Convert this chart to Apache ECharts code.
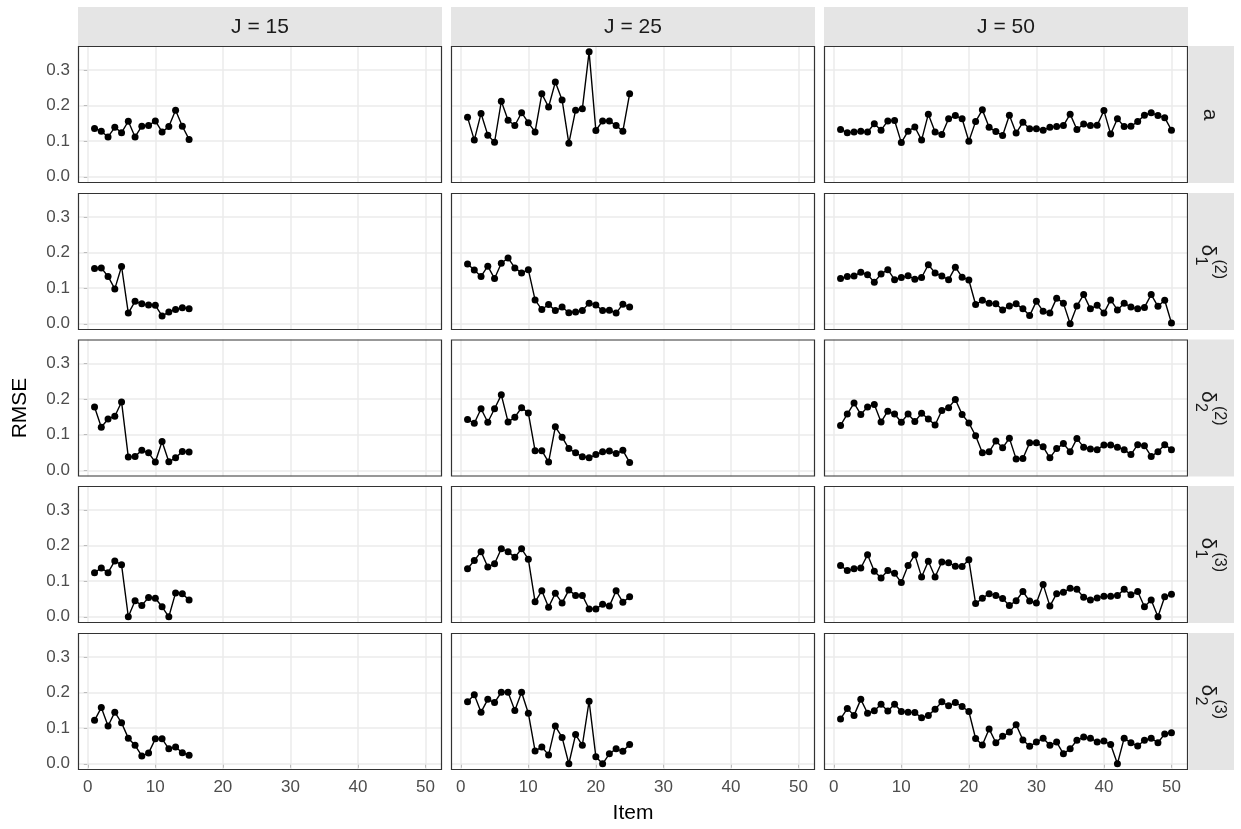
<!DOCTYPE html>
<html><head><meta charset="utf-8">
<script src="https://cdn.jsdelivr.net/npm/echarts@6/dist/echarts.min.js"></script>
<style>html,body{margin:0;padding:0;background:#fff}#c{width:1241px;height:829px}</style>
</head><body><div id="c"></div><script>
// ---- data (RMSE by item) ----
const colLabels = ['J = 15', 'J = 25', 'J = 50'];
const xTicks = [0, 10, 20, 30, 40, 50];
const yTicks = [0, 0.1, 0.2, 0.3];

const a_J15 = [0.136,0.128,0.112,0.139,0.124,0.156,0.112,0.142,0.144,0.157,0.126,0.141,0.187,0.142,0.105];
const a_J25 = [0.167,0.103,0.178,0.117,0.097,0.212,0.159,0.144,0.180,0.152,0.126,0.233,0.196,0.266,0.216,0.094,0.187,0.191,0.351,0.130,0.157,0.157,0.144,0.128,0.233];
const a_J50 = [0.133,0.124,0.126,0.128,0.126,0.149,0.131,0.157,0.158,0.096,0.128,0.140,0.103,0.176,0.126,0.119,0.163,0.172,0.163,0.100,0.155,0.188,0.139,0.127,0.116,0.173,0.123,0.153,0.135,0.135,0.131,0.139,0.141,0.144,0.176,0.133,0.148,0.144,0.145,0.186,0.120,0.163,0.141,0.142,0.155,0.173,0.180,0.172,0.166,0.131];

const d12_J15 = [0.155,0.157,0.133,0.098,0.161,0.030,0.063,0.056,0.053,0.052,0.022,0.033,0.040,0.045,0.042];
const d12_J25 = [0.168,0.151,0.133,0.162,0.127,0.170,0.185,0.157,0.143,0.152,0.067,0.040,0.054,0.037,0.047,0.031,0.033,0.037,0.058,0.053,0.037,0.038,0.030,0.055,0.047];
const d12_J50 = [0.127,0.133,0.134,0.145,0.138,0.117,0.140,0.152,0.124,0.130,0.135,0.125,0.130,0.166,0.143,0.134,0.124,0.159,0.131,0.123,0.054,0.066,0.058,0.056,0.039,0.050,0.056,0.042,0.023,0.063,0.035,0.030,0.072,0.058,0.000,0.050,0.082,0.042,0.052,0.030,0.067,0.039,0.058,0.047,0.042,0.046,0.082,0.049,0.066,0.002];

const d22_J15 = [0.178,0.121,0.144,0.152,0.192,0.037,0.039,0.056,0.049,0.023,0.081,0.024,0.035,0.053,0.051];
const d22_J25 = [0.143,0.132,0.173,0.135,0.173,0.212,0.136,0.149,0.176,0.161,0.055,0.055,0.023,0.122,0.093,0.061,0.049,0.038,0.035,0.044,0.052,0.054,0.047,0.056,0.022];
const d22_J50 = [0.126,0.158,0.189,0.157,0.178,0.185,0.136,0.166,0.158,0.135,0.158,0.137,0.160,0.144,0.127,0.168,0.176,0.199,0.157,0.133,0.097,0.049,0.052,0.082,0.063,0.090,0.032,0.033,0.077,0.077,0.066,0.035,0.061,0.075,0.052,0.089,0.065,0.060,0.058,0.071,0.071,0.065,0.058,0.044,0.072,0.069,0.039,0.052,0.072,0.058];

const d13_J15 = [0.124,0.137,0.124,0.157,0.146,0.000,0.045,0.032,0.054,0.052,0.028,0.000,0.067,0.065,0.047];
const d13_J25 = [0.135,0.158,0.183,0.140,0.149,0.191,0.183,0.167,0.191,0.162,0.042,0.073,0.027,0.066,0.039,0.075,0.060,0.060,0.022,0.022,0.035,0.030,0.073,0.041,0.056];
const d13_J50 = [0.144,0.130,0.135,0.137,0.174,0.128,0.109,0.130,0.122,0.096,0.144,0.174,0.112,0.156,0.112,0.154,0.152,0.142,0.141,0.160,0.037,0.052,0.065,0.060,0.051,0.032,0.045,0.071,0.044,0.039,0.091,0.030,0.065,0.069,0.080,0.077,0.055,0.047,0.053,0.058,0.058,0.060,0.077,0.062,0.071,0.028,0.047,0.000,0.056,0.063];

const d23_J15 = [0.122,0.158,0.106,0.145,0.115,0.072,0.052,0.022,0.030,0.070,0.070,0.042,0.047,0.031,0.024];
const d23_J25 = [0.174,0.194,0.145,0.181,0.172,0.201,0.201,0.150,0.201,0.142,0.036,0.047,0.025,0.106,0.074,0.000,0.082,0.052,0.176,0.020,0.000,0.028,0.042,0.035,0.054];
const d23_J50 = [0.126,0.155,0.136,0.181,0.142,0.149,0.167,0.148,0.167,0.147,0.145,0.144,0.129,0.136,0.153,0.174,0.163,0.172,0.161,0.147,0.071,0.053,0.098,0.059,0.077,0.089,0.110,0.067,0.049,0.061,0.072,0.052,0.061,0.028,0.042,0.066,0.075,0.072,0.061,0.064,0.054,0.000,0.072,0.059,0.050,0.066,0.072,0.059,0.084,0.087];

// row labels: [base, subscript, superscript]
const rowLabels = [['a', '', ''], ['δ', '1', '(2)'], ['δ', '2', '(2)'], ['δ', '1', '(3)'], ['δ', '2', '(3)']];
const panels = [
  [a_J15, a_J25, a_J50],
  [d12_J15, d12_J25, d12_J50],
  [d22_J15, d22_J25, d22_J50],
  [d13_J15, d13_J25, d13_J50],
  [d23_J15, d23_J25, d23_J50]
];

// ---- layout ----
const FONT = '"Liberation Sans", Arial, sans-serif';
const colLeft = [78, 451, 824], colW = 364;
const rowTop = [46, 193, 339.5, 486, 633], rowH = 137;
const stripTop = 7, stripH = 39;
const rStripX = 1189, rStripW = 45;
const XMIN = -1.45, XMAX = 52.45, YMIN = -0.0175, YMAX = 0.3675;

const grids = [], xAxes = [], yAxes = [], series = [], graphics = [];
let k = 0;
for (let r = 0; r < 5; r++) {
  for (let c = 0; c < 3; c++) {
    grids.push({left: colLeft[c], top: rowTop[r], width: colW, height: rowH,
      show: true, backgroundColor: '#FFFFFF', borderWidth: 0,
      containLabel: false, outerBoundsMode: 'none'});
    const showX = r === 4, showY = c === 0;
    xAxes.push({type: 'value', gridIndex: k, min: XMIN, max: XMAX,
      axisLine: {show: false}, splitLine: {show: false},
      axisTick: {show: showX, customValues: xTicks, length: 4, lineStyle: {color: '#333333', width: 1}},
      axisLabel: {show: showX, customValues: xTicks, color: '#4D4D4D', fontFamily: FONT, fontSize: 17, margin: 9}});
    yAxes.push({type: 'value', gridIndex: k, min: YMIN, max: YMAX,
      axisLine: {show: false}, splitLine: {show: false},
      axisTick: {show: showY, customValues: yTicks, length: 4, lineStyle: {color: '#333333', width: 1}},
      axisLabel: {show: showY, customValues: yTicks, color: '#4D4D4D', fontFamily: FONT, fontSize: 17, margin: 8,
        formatter: v => v.toFixed(1)}});
    // gridlines
    series.push({type: 'line', xAxisIndex: k, yAxisIndex: k, data: [], z: 1, silent: true, animation: false,
      markLine: {z: 1, silent: true, symbol: ['none', 'none'], animation: false, label: {show: false},
        lineStyle: {color: '#EBEBEB', width: 1.5, type: 'solid'}, emphasis: {disabled: true},
        data: xTicks.map(v => ({xAxis: v})).concat(yTicks.map(v => ({yAxis: v})))}});
    // data
    const vals = panels[r][c];
    series.push({type: 'line', xAxisIndex: k, yAxisIndex: k, z: 3, animation: false,
      data: vals.map((v, i) => [i + 1, v]),
      symbol: 'circle', symbolSize: 7, showSymbol: true,
      lineStyle: {color: '#000000', width: 1.4},
      itemStyle: {color: '#000000', borderWidth: 0},
      emphasis: {disabled: true}});
    // panel border
    graphics.push({type: 'rect', z: 100, silent: true,
      shape: {x: colLeft[c] + 0.5, y: rowTop[r] + 0.5, width: colW - 1, height: rowH - 1},
      style: {fill: 'none', stroke: '#333333', lineWidth: 1.2}});
    k++;
  }
}

// top strips
for (let c = 0; c < 3; c++) {
  graphics.push({type: 'rect', z: 50, silent: true,
    shape: {x: colLeft[c], y: stripTop, width: colW, height: stripH}, style: {fill: '#E5E5E5'}});
  graphics.push({type: 'text', z: 60, silent: true, x: colLeft[c] + colW / 2, y: stripTop + stripH / 2 + 1,
    style: {text: colLabels[c], font: '21px ' + FONT, fill: '#1A1A1A', align: 'center', verticalAlign: 'middle',
      textAlign: 'center', textVerticalAlign: 'middle'}});
}
// right strips
for (let r = 0; r < 5; r++) {
  graphics.push({type: 'rect', z: 50, silent: true,
    shape: {x: rStripX, y: rowTop[r], width: rStripW, height: rowH}, style: {fill: '#E5E5E5'}});
  const cy = rowTop[r] + rowH / 2, cx = 1211;
  const lab = rowLabels[r];
  const txt = (t, x, y, size, al) => ({type: 'text', z: 60, x: x, y: y, silent: true,
    style: {text: t, font: size + 'px ' + FONT, fill: '#1A1A1A', align: al, verticalAlign: 'middle',
      textAlign: al, textVerticalAlign: 'middle'}});
  const children = lab[1]
    ? [txt(lab[0], -17, 3, 21, 'left'), txt(lab[1], -5, 11, 16, 'left'), txt(lab[2], -2, -8, 16, 'left')]
    : [txt(lab[0], 0, 1, 21, 'center')];
  graphics.push({type: 'group', z: 60, x: cx, y: cy, rotation: -Math.PI / 2, children: children});
}
// axis titles
graphics.push({type: 'text', z: 60, silent: true, x: (colLeft[0] + colLeft[2] + colW) / 2, y: 813,
  style: {text: 'Item', font: '21px ' + FONT, fill: '#000000', align: 'center', verticalAlign: 'middle',
    textAlign: 'center', textVerticalAlign: 'middle'}});
graphics.push({type: 'text', z: 60, silent: true, x: 20, y: (rowTop[0] + rowTop[4] + rowH) / 2, rotation: Math.PI / 2,
  style: {text: 'RMSE', font: '21px ' + FONT, fill: '#000000', align: 'center', verticalAlign: 'middle',
    textAlign: 'center', textVerticalAlign: 'middle'}});

const chart = echarts.init(document.getElementById('c'), null, {renderer: 'canvas'});
chart.setOption({
  animation: false,
  backgroundColor: '#FFFFFF',
  grid: grids, xAxis: xAxes, yAxis: yAxes, series: series,
  graphic: {elements: graphics}
});
</script></body></html>
